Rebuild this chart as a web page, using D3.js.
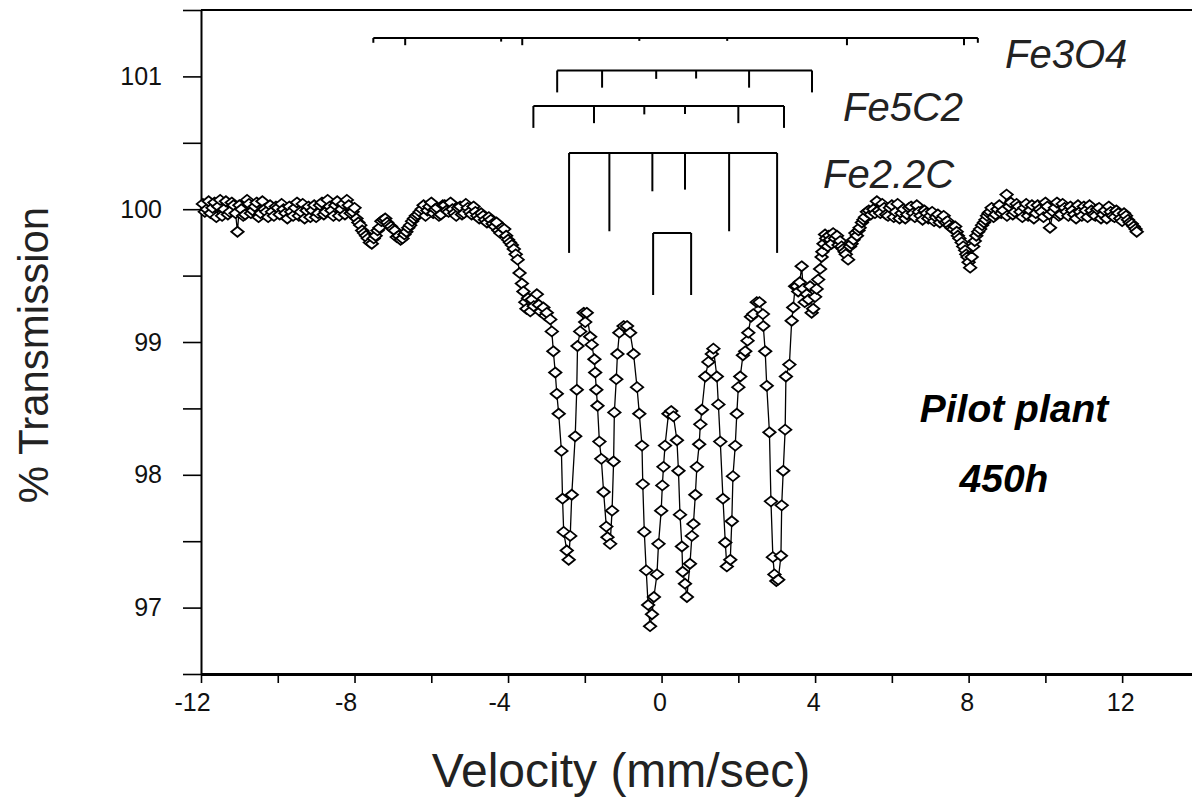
<!DOCTYPE html>
<html>
<head>
<meta charset="utf-8">
<script src="https://cdnjs.cloudflare.com/ajax/libs/d3/7.8.5/d3.min.js"></script>
<style>
  body { margin: 0; background: #fff; }
  svg { display: block; font-family: "Liberation Sans", Arial, Helvetica, sans-serif; }
</style>
</head>
<body>
<svg id="chart" width="1192" height="805"></svg>
<script>
// Mossbauer spectrum: [velocity mm/s, % transmission]
var spectrum = [
  [-11.95,100.04],[-11.85,100.00],[-11.75,99.97],[-11.65,100.05],[-11.55,100.02],[-11.45,99.95],
  [-11.35,100.06],[-11.25,99.98],[-11.15,100.03],[-11.05,99.83],[-10.95,100.00],[-10.85,99.96],
  [-10.75,100.04],[-10.65,99.99],[-10.55,100.05],[-10.45,99.97],[-10.35,100.00],[-10.25,99.94],
  [-10.15,99.98],[-10.05,100.02],[-9.95,99.96],[-9.85,100.00],[-9.75,99.93],[-9.65,99.98],
  [-9.55,100.01],[-9.45,99.95],[-9.35,100.04],[-9.25,99.99],[-9.15,99.94],[-9.05,100.03],
  [-8.95,99.97],[-8.85,100.05],[-8.75,99.98],[-8.65,100.02],[-8.55,99.95],[-8.45,100.06],
  [-8.35,100.00],[-8.25,99.96],[-8.15,100.03],[-8.05,99.98],[-7.95,99.93],[-7.85,99.88],
  [-7.75,99.82],[-7.65,99.78],[-7.55,99.74],[-7.45,99.80],[-7.35,99.86],[-7.25,99.92],
  [-7.15,99.90],[-7.05,99.87],[-6.95,99.84],[-6.85,99.80],[-6.75,99.78],[-6.65,99.83],
  [-6.55,99.88],[-6.45,99.93],[-6.35,99.96],[-6.25,100.00],[-6.15,99.95],[-6.05,100.02],
  [-5.95,99.97],[-5.85,100.01],[-5.75,99.96],[-5.65,100.03],[-5.55,99.98],[-5.45,100.00],
  [-5.35,99.95],[-5.25,100.02],[-5.15,99.97],[-5.05,100.01],[-4.95,99.96],[-4.85,99.98],
  [-4.75,99.93],[-4.65,99.95],[-4.55,99.90],[-4.45,99.92],[-4.35,99.87],[-4.25,99.84],
  [-4.15,99.86],[-4.05,99.80],[-3.95,99.75],[-3.85,99.70],[-3.75,99.62],[-3.70,99.52],
  [-3.64,99.44],[-3.55,99.30],[-3.48,99.33],[-3.42,99.23],[-3.33,99.27],[-3.25,99.36],
  [-3.16,99.23],[-3.08,99.26],[-2.99,99.22],[-2.90,99.17],[-2.86,99.08],[-2.82,98.93],
  [-2.77,98.77],[-2.73,98.61],[-2.68,98.46],[-2.61,98.18],[-2.58,97.82],[-2.55,97.57],
  [-2.47,97.43],[-2.42,97.36],[-2.38,97.54],[-2.34,97.85],[-2.25,98.29],[-2.21,98.64],
  [-2.19,98.97],[-2.12,99.08],[-2.03,99.22],[-1.99,99.15],[-1.95,99.22],[-1.86,99.04],
  [-1.82,98.98],[-1.75,98.87],[-1.73,98.77],[-1.70,98.64],[-1.67,98.52],[-1.62,98.25],
  [-1.57,98.12],[-1.51,97.87],[-1.44,97.61],[-1.41,97.53],[-1.34,97.48],[-1.29,97.73],
  [-1.25,98.10],[-1.23,98.47],[-1.18,98.72],[-1.15,98.91],[-1.10,99.07],[-0.99,99.12],
  [-0.90,99.12],[-0.82,99.07],[-0.73,98.91],[-0.64,98.66],[-0.58,98.46],[-0.51,98.22],
  [-0.49,97.93],[-0.45,97.57],[-0.40,97.28],[-0.35,97.02],[-0.30,96.86],[-0.25,96.95],
  [-0.20,97.08],[-0.12,97.25],[-0.08,97.48],[-0.01,97.73],[0.02,97.92],[0.05,98.06],
  [0.09,98.22],[0.18,98.46],[0.25,98.48],[0.31,98.44],[0.40,98.26],[0.44,98.03],
  [0.48,97.70],[0.53,97.46],[0.55,97.27],[0.61,97.18],[0.66,97.08],[0.74,97.33],
  [0.79,97.54],[0.83,97.63],[0.88,97.85],[0.92,98.06],[0.98,98.23],[1.01,98.38],
  [1.05,98.49],[1.14,98.74],[1.22,98.85],[1.31,98.91],[1.35,98.95],[1.44,98.74],
  [1.48,98.53],[1.53,98.25],[1.60,97.82],[1.66,97.49],[1.70,97.31],[1.79,97.36],
  [1.83,97.65],[1.86,97.99],[1.92,98.22],[1.96,98.46],[2.00,98.66],[2.05,98.74],
  [2.12,98.90],[2.18,98.93],[2.24,99.01],[2.26,99.07],[2.33,99.19],[2.39,99.21],
  [2.48,99.30],[2.55,99.30],[2.64,99.21],[2.65,99.12],[2.70,98.93],[2.74,98.67],
  [2.81,98.32],[2.85,97.80],[2.90,97.38],[2.94,97.25],[2.99,97.20],[3.04,97.21],
  [3.11,97.39],[3.13,97.77],[3.17,98.03],[3.22,98.34],[3.24,98.74],[3.33,98.83],
  [3.39,99.16],[3.43,99.26],[3.48,99.42],[3.52,99.42],[3.56,99.38],[3.65,99.57],
  [3.69,99.40],[3.78,99.36],[3.87,99.42],[3.95,99.25],[4.00,99.34],[4.08,99.47],
  [4.13,99.55],[4.17,99.64],[4.22,99.74],[4.26,99.81],[4.33,99.72],[4.39,99.77],
  [4.47,99.82],[4.57,99.80],[4.65,99.76],[4.73,99.70],[4.80,99.66],[4.86,99.62],
  [4.91,99.72],[5.00,99.77],[5.09,99.80],[5.16,99.86],[5.22,99.90],[5.30,99.94],
  [5.35,99.98],[5.45,99.96],[5.52,100.00],[5.61,100.06],[5.70,99.97],[5.80,100.01],
  [5.90,99.95],[6.00,100.03],[6.10,99.98],[6.20,99.93],[6.30,100.00],[6.40,99.96],
  [6.50,100.02],[6.60,99.94],[6.70,99.98],[6.80,99.92],[6.90,99.97],[7.00,99.95],
  [7.10,99.91],[7.20,99.96],[7.30,99.93],[7.40,99.90],[7.50,99.88],[7.60,99.85],
  [7.69,99.83],[7.76,99.78],[7.82,99.75],[7.91,99.69],[7.97,99.64],[8.04,99.56],
  [8.12,99.72],[8.20,99.80],[8.30,99.85],[8.40,99.90],[8.48,99.95],[8.56,99.98],
  [8.65,99.94],[8.75,100.00],[8.85,99.97],[8.99,100.11],[9.05,100.02],[9.15,99.96],
  [9.25,100.04],[9.35,99.98],[9.45,100.01],[9.55,99.95],[9.65,100.03],[9.75,99.97],
  [9.85,100.00],[9.95,99.94],[10.05,100.02],[10.12,99.86],[10.20,99.98],[10.30,100.05],
  [10.40,99.96],[10.50,100.01],[10.60,99.95],[10.70,99.99],[10.80,99.93],[10.90,99.98],
  [11.00,100.02],[11.10,99.94],[11.20,99.99],[11.30,99.95],[11.40,100.01],[11.50,99.96],
  [11.60,99.93],[11.70,99.98],[11.80,99.94],[11.90,99.97],[12.00,99.91],[12.10,99.95],
  [12.20,99.90],[12.30,99.87],[12.38,99.83]
];

// Second (interleaved) set of channels in the flat wings and shoulders
var spectrumWings = [
  [-11.90,99.98],[-11.80,100.06],[-11.70,100.01],[-11.60,99.94],[-11.50,100.07],[-11.40,100.00],
  [-11.30,99.96],[-11.20,100.05],[-11.10,99.97],[-11.00,100.03],[-10.90,99.95],[-10.80,100.07],
  [-10.70,99.97],[-10.60,100.02],[-10.50,99.94],[-10.40,100.06],[-10.30,99.98],[-10.20,100.03],
  [-10.10,99.95],[-10.00,100.01],[-9.90,100.04],[-9.80,99.97],[-9.70,100.02],[-9.60,99.95],
  [-9.50,100.05],[-9.40,99.98],[-9.30,99.93],[-9.20,100.02],[-9.10,99.99],[-9.00,99.94],
  [-8.90,100.03],[-8.80,99.96],[-8.70,100.07],[-8.60,99.99],[-8.50,100.03],[-8.40,99.95],
  [-8.30,100.04],[-8.20,100.07],[-8.10,99.97],[-8.00,100.01],[-7.90,99.90],[-7.80,99.84],
  [-7.70,99.80],[-7.60,99.75],[-7.50,99.78],[-7.40,99.84],[-7.30,99.91],[-7.20,99.93],
  [-7.10,99.88],[-7.00,99.85],[-6.90,99.79],[-6.80,99.77],[-6.70,99.81],[-6.60,99.86],
  [-6.50,99.91],[-6.40,99.95],[-6.30,99.98],[-6.20,100.03],[-6.10,99.99],[-6.00,100.05],
  [-5.90,100.00],[-5.80,99.95],[-5.70,100.03],[-5.60,99.99],[-5.50,100.05],[-5.40,99.97],
  [-5.30,100.01],[-5.20,99.96],[-5.10,100.04],[-5.00,99.98],[-4.90,100.02],[-4.80,99.95],
  [-4.70,99.97],[-4.60,99.92],[-4.50,99.94],[-4.40,99.89],[-4.30,99.90],[-4.20,99.82],
  [-4.10,99.85],[-4.00,99.77],[-3.90,99.73],[-3.80,99.66],[-3.60,99.38],[-3.52,99.25],
  [-3.38,99.32],[-3.20,99.28],[-3.03,99.20],
  [3.60,99.45],[3.73,99.30],[3.83,99.32],[3.91,99.22],[4.04,99.40],[4.19,99.68],
  [4.29,99.78],[4.36,99.80],[4.43,99.74],[4.52,99.78],[4.61,99.73],[4.69,99.72],
  [4.77,99.68],[4.95,99.74],[5.05,99.82],[5.13,99.84],[5.26,99.92],[5.40,99.99],
  [5.56,99.97],[5.65,99.99],[5.75,100.04],[5.85,99.96],[5.95,100.01],[6.05,99.94],
  [6.15,100.04],[6.25,99.97],[6.35,99.93],[6.45,100.01],[6.55,99.97],[6.65,100.03],
  [6.75,99.95],[6.85,99.99],[6.95,99.93],[7.05,99.98],[7.15,99.94],[7.25,99.90],
  [7.35,99.95],[7.45,99.91],[7.55,99.86],[7.65,99.87],[7.72,99.80],[7.86,99.72],
  [7.94,99.66],[8.00,99.60],[8.08,99.64],[8.16,99.76],[8.25,99.83],[8.35,99.88],
  [8.44,99.92],[8.52,99.97],[8.60,100.01],[8.70,99.96],[8.80,100.03],[8.90,99.99],
  [9.00,99.95],[9.10,100.05],[9.20,99.98],[9.30,100.02],[9.40,99.94],[9.50,100.04],
  [9.60,99.99],[9.70,99.93],[9.80,100.03],[9.90,99.98],[10.00,100.05],[10.10,99.96],
  [10.25,100.01],[10.35,99.95],[10.45,100.04],[10.55,99.98],[10.65,100.02],[10.75,99.96],
  [10.85,100.03],[10.95,99.95],[11.05,99.99],[11.15,100.03],[11.25,99.96],[11.35,100.00],
  [11.45,99.93],[11.55,99.99],[11.65,100.02],[11.75,99.95],[11.85,99.99],[11.95,99.93],
  [12.05,99.97],[12.15,99.92],[12.25,99.89],[12.35,99.85]
];

// Stick diagrams (line positions in mm/s and relative intensities)
var fe3o4Lines = [-7.51, -6.68, -4.18, -3.63, -0.58, 1.71, 4.83, 7.88, 8.24];
var fe3o4Int = [2, 3, 1.5, 3, 1.2, 1.2, 3, 3, 2];
var fe5c2aLines = [-2.72, -1.55, -0.14, 0.90, 2.28, 3.92];
var fe5c2bLines = [-3.34, -1.76, -0.45, 0.61, 2.00, 3.19];
var fe22cLines = [-2.41, -1.36, -0.24, 0.61, 1.76, 3.01];
var doubletLines = [-0.22, 0.77];
var sextetInt = [3, 2.35, 1.15, 1.1, 2.35, 3];
var doubletInt = [1, 1];

// Axis ticks
var xTicks = [-12, -10, -8, -6, -4, -2, 0, 2, 4, 6, 8, 10, 12];
var yTicks = [96.5, 97, 97.5, 98, 98.5, 99, 99.5, 100, 100.5, 101, 101.5];

var svg = d3.select('#chart');

var x = d3.scaleLinear().domain([-12, 13.82]).range([201, 1192]);
var y = d3.scaleLinear().domain([96.5, 101.5]).range([674, 10]);

// All channels, in velocity order
var points = d3.sort(spectrum.concat(spectrumWings), function(d) { return d[0]; });

// Top frame line
svg.append('line')
    .attr('x1', x(-12)).attr('x2', 1192)
    .attr('y1', y(101.5)).attr('y2', y(101.5))
    .attr('stroke', '#000').attr('stroke-width', 2);

// X axis
var xAxis = svg.append('g')
    .attr('transform', 'translate(0,' + y(96.5) + ')')
    .call(d3.axisBottom(x)
        .tickValues(xTicks)
        .tickSize(9)
        .tickSizeOuter(0)
        .tickPadding(10)
        .tickFormat(function(d) { return d % 4 === 0 ? String(d) : ''; }));
xAxis.select('.domain').attr('stroke-width', 3);
xAxis.selectAll('.tick line').attr('stroke-width', 1.6);
xAxis.selectAll('.tick text')
    .attr('font-size', 25)
    .attr('fill', '#111')
    .attr('dx', function(d) { return d < 0 ? -9 : -2; })
    .style('font-family', '"Liberation Sans", Arial, sans-serif');

// Y axis
var yAxis = svg.append('g')
    .attr('transform', 'translate(' + x(-12) + ',0)')
    .call(d3.axisLeft(y)
        .tickValues(yTicks)
        .tickSize(18)
        .tickSizeOuter(0)
        .tickPadding(21)
        .tickFormat(function(d) { return (Number.isInteger(d) && d > 96.5 && d < 101.5) ? String(d) : ''; }));
yAxis.select('.domain').attr('stroke-width', 2);
yAxis.selectAll('.tick line').attr('stroke-width', 1.6);
yAxis.selectAll('.tick text')
    .attr('font-size', 25)
    .attr('fill', '#111')
    .style('font-family', '"Liberation Sans", Arial, sans-serif');

// Axis titles
svg.append('text')
    .attr('transform', 'translate(48,355) rotate(-90)')
    .attr('text-anchor', 'middle')
    .attr('font-size', 42)
    .attr('fill', '#222')
    .text('% Transmission');

svg.append('text')
    .attr('x', 621).attr('y', 787)
    .attr('text-anchor', 'middle')
    .attr('font-size', 48)
    .attr('fill', '#222')
    .text('Velocity (mm/sec)');

// Stick diagram helper: horizontal bar with legs hanging down
function comb(lines, ints, yPos, unit, width) {
    var g = svg.append('g')
        .attr('stroke', '#000')
        .attr('stroke-width', width)
        .attr('fill', 'none');
    g.append('line')
        .attr('x1', x(d3.min(lines))).attr('x2', x(d3.max(lines)))
        .attr('y1', yPos).attr('y2', yPos);
    g.selectAll('line.leg')
        .data(lines)
        .enter().append('line')
        .attr('class', 'leg')
        .attr('x1', function(d) { return x(d); })
        .attr('x2', function(d) { return x(d); })
        .attr('y1', yPos)
        .attr('y2', function(d, i) { return yPos + unit * ints[i]; });
}

comb(fe3o4Lines, fe3o4Int, 38, 2.4, 2);
comb(fe5c2aLines, sextetInt, 70.5, 7.3, 2);
comb(fe5c2bLines, sextetInt, 106, 7.3, 2);
comb(fe22cLines, sextetInt, 153, 33.3, 2);
comb(doubletLines, doubletInt, 233, 62, 2);

// Phase labels
var labels = [
    {text: 'Fe3O4', x: 1005, y: 68},
    {text: 'Fe5C2', x: 843, y: 121},
    {text: 'Fe2.2C', x: 823, y: 188}
];
svg.selectAll('text.phase')
    .data(labels)
    .enter().append('text')
    .attr('class', 'phase')
    .attr('x', function(d) { return d.x; })
    .attr('y', function(d) { return d.y; })
    .attr('font-size', 40)
    .attr('font-style', 'italic')
    .attr('fill', '#222')
    .text(function(d) { return d.text; });

svg.append('text')
    .attr('x', 1014).attr('y', 422)
    .attr('text-anchor', 'middle')
    .attr('font-size', 39)
    .attr('font-weight', 'bold')
    .attr('font-style', 'italic')
    .text('Pilot plant');

svg.append('text')
    .attr('x', 1004).attr('y', 492)
    .attr('text-anchor', 'middle')
    .attr('font-size', 39)
    .attr('font-weight', 'bold')
    .attr('font-style', 'italic')
    .text('450h');

// Fit line through the points
var line = d3.line()
    .x(function(d) { return x(d[0]); })
    .y(function(d) { return y(d[1]); });

svg.append('path')
    .datum(points)
    .attr('d', line)
    .attr('fill', 'none')
    .attr('stroke', '#000')
    .attr('stroke-width', 1.3);

// Open diamond markers
var dw = 6.2, dh = 5;
svg.append('g')
    .selectAll('path.pt')
    .data(points)
    .enter().append('path')
    .attr('class', 'pt')
    .attr('transform', function(d) { return 'translate(' + x(d[0]) + ',' + y(d[1]) + ')'; })
    .attr('d', 'M0,' + (-dh) + 'L' + dw + ',0L0,' + dh + 'L' + (-dw) + ',0Z')
    .attr('fill', '#fff')
    .attr('stroke', '#000')
    .attr('stroke-width', 1.8);
</script>
</body>
</html>
